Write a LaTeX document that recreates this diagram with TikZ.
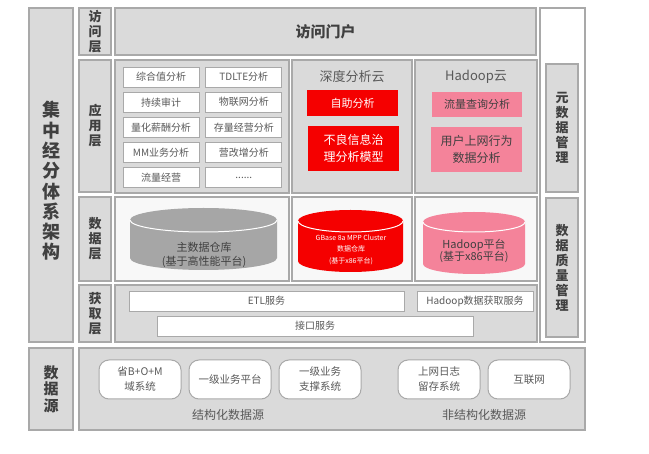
\documentclass[tikz,border=0pt]{standalone}
\usepackage{fontspec}
\setmainfont{Noto Sans CJK SC}
\usetikzlibrary{positioning}
\definecolor{bgGrey}{HTML}{DADADA}
\definecolor{lnGrey}{HTML}{A9A9A9}
\definecolor{txGrey}{HTML}{595959}
\definecolor{dkGrey}{HTML}{404040}
\definecolor{cRed}{HTML}{F50000}
\definecolor{cPink}{HTML}{F4839A}
\definecolor{cylGrey}{HTML}{A6A6A6}
\definecolor{dbWhite}{HTML}{F8F8F8}
\newcommand{\fsz}[2]{\fontsize{#1}{#2}\selectfont}
\tikzset{
  panel/.style={draw=lnGrey, fill=bgGrey, line width=1.2pt, inner sep=0pt},
  layer/.style={panel, minimum width=32pt, text=dkGrey, align=center, font=\bfseries\fsz{13}{15}},
  dbpanel/.style={panel, fill=dbWhite},
  sbox/.style={draw=lnGrey, fill=white, line width=0.8pt, minimum width=76pt, minimum height=20pt, inner sep=0pt, text=txGrey, font=\fsz{10}{12}},
  wbox/.style={sbox},
  redbox/.style={fill=cRed, inner sep=0pt, text=white, align=center},
  pinkbox/.style={fill=cPink, inner sep=0pt, text=dkGrey, align=center},
  rbox/.style={draw=lnGrey, fill=white, line width=1pt, rounded corners=10pt, minimum width=82pt, minimum height=39pt, inner sep=0pt, align=center, text=txGrey, font=\fsz{10.5}{15}},
  title/.style={text=txGrey, font=\fsz{13}{15}}
}
\begin{document}
\begin{tikzpicture}[x=1pt, y=-1pt]
  \useasboundingbox (0,0) rectangle (649,454);
  % side columns
  \node (arch) [panel, minimum width=44pt, minimum height=334pt] at (51,175) {};
  \node (archT) [text=dkGrey, align=center, font=\bfseries\fsz{18}{20.3}] at (51,181) {集\\中\\经\\分\\体\\系\\架\\构};
  \node (mgmt) [panel, fill=white, minimum width=45pt, minimum height=334pt] at (562.5,175) {};
  \node (meta) [layer, minimum height=128pt] at (562,128) {元\\数\\据\\管\\理};
  \node (quality) [layer, minimum height=139pt] at (562,267.5) {数\\据\\质\\量\\管\\理};
  % access layer
  \node (lyAccess) [layer, minimum height=47pt] at (95,31.5) {访\\问\\层};
  \node (portal) [panel, minimum width=421pt, minimum height=47pt, text=dkGrey, font=\bfseries\fsz{15}{18}] at (325.5,31.5) {访问门户};
  % application layer
  \node (lyApp) [layer, minimum height=132pt] at (95,126) {应\\用\\层};
  \node (appBox) [panel, minimum width=174pt, minimum height=133pt] at (202,126.5) {};
  \node (aZh) [sbox] at (161,77) {综合值分析};
  \node (aTd) [sbox, right=6pt of aZh] {TDLTE分析};
  \node (aCx) [sbox, below=4.4pt of aZh] {持续审计};
  \node (aWl) [sbox, right=6pt of aCx] {物联网分析};
  \node (aLh) [sbox, below=4.4pt of aCx] {量化薪酬分析};
  \node (aCl) [sbox, right=6pt of aLh] {存量经营分析};
  \node (aMm) [sbox, below=4.4pt of aLh] {MM业务分析};
  \node (aYg) [sbox, right=6pt of aMm] {营改增分析};
  \node (aLl) [sbox, below=4.4pt of aMm] {流量经营};
  \node (aMore) [sbox, right=6pt of aLl] {......};
  \node (deepBox) [panel, minimum width=120pt, minimum height=133pt] at (352,126.5) {};
  \node (deepT) [title] at (352,77) {深度分析云};
  \node (dSelf) [redbox, minimum width=91pt, minimum height=26pt, font=\fsz{11}{13}] at (352.5,103) {自助分析};
  \node (dBad) [redbox, minimum width=91pt, minimum height=45pt, font=\fsz{12}{17}] at (353.5,148.5) {不良信息治\\理分析模型};
  \node (hdpBox) [panel, minimum width=122pt, minimum height=133pt] at (476,126.5) {};
  \node (hdpT) [title] at (476,77) {Hadoop云};
  \node (hFlow) [pinkbox, minimum width=90pt, minimum height=25pt, font=\fsz{11}{13}] at (477,104.5) {流量查询分析};
  \node (hUser) [pinkbox, minimum width=91pt, minimum height=45pt, font=\fsz{12}{17}] at (476.5,149.5) {用户上网行为\\数据分析};
  % data layer
  \node (lyData) [layer, minimum height=84pt] at (95,239) {数\\据\\层};
  \node (dbMain) [dbpanel, minimum width=174pt, minimum height=84pt] at (202,239) {};
  \node (dbGb) [dbpanel, minimum width=120pt, minimum height=84pt] at (352,239) {};
  \node (dbHdp) [dbpanel, minimum width=122pt, minimum height=84pt] at (476,239) {};
  \fill[cylGrey] (130,220) -- (130,258) arc[start angle=180, end angle=0, x radius=73.5, y radius=12] -- (277,220) arc[start angle=0, end angle=-180, x radius=73.5, y radius=12] -- cycle;
  \draw[white, line width=1pt] (130,220) arc[start angle=180, end angle=0, x radius=73.5, y radius=12];
  \fill[cRed] (298,221) -- (298,261) arc[start angle=180, end angle=0, x radius=52.5, y radius=11] -- (403,221) arc[start angle=0, end angle=-180, x radius=52.5, y radius=11] -- cycle;
  \draw[white, line width=1pt] (298,221) arc[start angle=180, end angle=0, x radius=52.5, y radius=11];
  \fill[cPink] (423,222) -- (423,264) arc[start angle=180, end angle=0, x radius=51, y radius=10] -- (525,222) arc[start angle=0, end angle=-180, x radius=51, y radius=10] -- cycle;
  \draw[white, line width=1pt] (423,222) arc[start angle=180, end angle=0, x radius=51, y radius=10];
  \node (dbMainT) [text=dkGrey, align=center, font=\fsz{11}{14}] at (204,255) {主数据仓库\\(基于高性能平台)};
  \node (dbGbT) [text=white, align=center, font=\fsz{7}{11.5}] at (351,249.5) {GBase 8a MPP Cluster\\数据仓库\\(基于x86平台)};
  \node (dbHdpT) [text=dkGrey, align=center, font=\fsz{11}{12.5}] at (474,251) {Hadoop平台\\(基于x86平台)};
  % acquisition layer
  \node (lyGet) [layer, minimum height=57pt] at (95,313.5) {获\\取\\层};
  \node (getBox) [panel, minimum width=422pt, minimum height=57pt] at (326,313.5) {};
  \node (etl) [wbox, minimum width=275pt] at (266.5,301) {ETL服务};
  \node (hdpGet) [wbox, minimum width=116pt] at (475,301) {Hadoop数据获取服务};
  \node (api) [wbox, minimum width=316pt] at (315,326) {接口服务};
  % data sources
  \node (lySrc) [layer, minimum width=44pt, minimum height=82pt, font=\bfseries\fsz{15}{16.5}] at (51,389) {数\\据\\源};
  \node (srcBox) [panel, minimum width=506pt, minimum height=82pt] at (332,389) {};
  \node (sBom) [rbox] at (140,379.5) {省B+O+M\\域系统};
  \node (sPlat) [rbox, right=7pt of sBom] {一级业务平台};
  \node (sSup) [rbox, right=7pt of sPlat] {一级业务\\支撑系统};
  \node (sLog) [rbox] at (439,379.5) {上网日志\\留存系统};
  \node (sNet) [rbox, right=7pt of sLog] {互联网};
  \node (structT) [text=txGrey, font=\fsz{12}{14}] at (228,415) {结构化数据源};
  \node (unstructT) [text=txGrey, font=\fsz{12}{14}] at (484,415) {非结构化数据源};
\end{tikzpicture}
\end{document}
